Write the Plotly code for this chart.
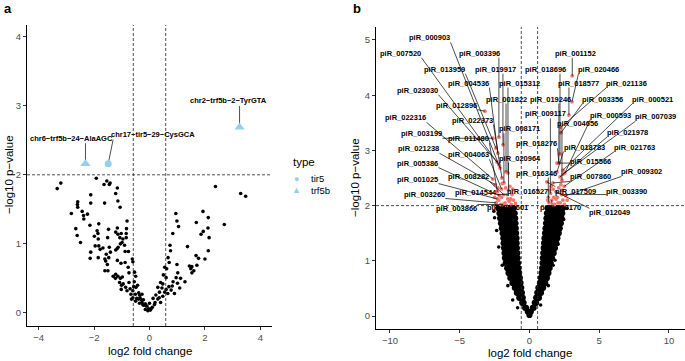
import plotly.graph_objects as go

W, H = 685, 361
FONT = "Liberation Sans, Arial, sans-serif"

# ---------------- Panel a data ----------------
a_bg_pts = [
    (-3.20, 1.88), (-3.33, 1.80), (-1.92, 1.95), (-1.64, 1.86), (-1.54, 1.91), (-1.42, 1.88),
    (-1.45, 1.86), (-1.16, 1.81), (-1.22, 1.73), (-2.12, 1.71), (-2.59, 1.61), (-2.60, 1.57),
    (-2.12, 1.59), (-1.62, 1.59), (-1.14, 1.62), (-1.06, 1.53), (-2.59, 1.53), (-2.82, 1.44),
    (-2.43, 1.47), (-2.24, 1.43), (-2.38, 1.41), (-2.37, 1.36), (-0.81, 1.33), (-1.83, 1.29),
    (-2.15, 1.27), (-2.66, 1.22), (-1.48, 1.21), (-1.16, 1.23), (-0.83, 1.22), (-1.89, 1.19),
    (-2.61, 1.12), (-1.86, 1.15), (-1.99, 1.11), (-1.51, 1.09), (-1.22, 1.17), (-1.14, 1.14),
    (-1.02, 1.15), (-0.84, 1.15), (-1.07, 1.09), (-0.96, 1.07), (-0.84, 1.09), (-1.85, 1.07),
    (-2.49, 1.02), (-0.99, 1.02), (-1.05, 1.00), (-0.90, 0.98), (-1.96, 0.97), (-1.83, 0.97),
    (-1.68, 0.94), (-1.45, 0.95), (-1.13, 0.95), (-1.22, 0.91), (-1.17, 0.93), (-2.12, 0.88),
    (-1.78, 0.92), (-1.56, 0.85), (-1.41, 0.88), (-0.88, 0.89), (-0.76, 0.89), (-2.14, 0.79),
    (-1.85, 0.80), (-1.61, 0.78), (-1.47, 0.80), (-1.58, 0.75), (-1.52, 0.70), (-1.16, 0.76),
    (-1.03, 0.72), (-0.88, 0.73), (-0.77, 0.66), (-0.62, 0.78), (-0.60, 0.74), (-1.61, 0.61),
    (-1.50, 0.61), (-1.22, 0.56), (-1.14, 0.53), (-1.05, 0.50), (-0.98, 0.52), (-0.74, 0.58),
    (-1.31, 0.53), (-1.23, 0.50), (-0.54, 0.59), (-0.50, 0.53), (-1.08, 0.44), (-1.01, 0.40),
    (-0.95, 0.42), (-0.74, 0.44), (-0.86, 0.37), (-1.02, 0.34), (-0.81, 0.32), (-0.57, 0.38),
    (-0.43, 0.40), (-0.49, 0.37), (-0.60, 0.32), (-0.67, 0.27), (-0.51, 0.27), (-0.39, 0.29),
    (-0.27, 0.27), (-0.60, 0.22), (-0.46, 0.21), (-0.34, 0.22), (-0.22, 0.19), (-0.50, 0.17),
    (-0.27, 0.15), (-0.15, 0.13), (-0.09, 0.10), (-0.03, 0.06), (-0.21, 0.11), (-0.36, 0.14),
    (0.03, 0.04), (-0.70, 0.35), (-0.55, 0.45), (-0.65, 0.20), (-0.40, 0.20), (-0.15, 0.05),
    (2.38, 1.83), (3.29, 1.73), (3.47, 1.69), (0.95, 1.44), (1.93, 1.47), (2.12, 1.38),
    (0.99, 1.33), (1.69, 1.31), (1.05, 1.25), (2.70, 1.28), (2.11, 1.23), (1.94, 1.18),
    (1.86, 1.14), (0.84, 1.15), (2.15, 1.09), (0.74, 0.98), (1.37, 0.96), (0.76, 0.90),
    (2.12, 0.90), (1.68, 0.83), (1.77, 0.79), (2.00, 0.78), (0.67, 0.80), (0.71, 0.73),
    (0.99, 0.70), (0.55, 0.66), (0.62, 0.64), (1.71, 0.69), (1.44, 0.68), (1.53, 0.67),
    (1.49, 0.64), (1.60, 0.61), (1.53, 0.58), (1.02, 0.58), (0.50, 0.55), (0.60, 0.51),
    (0.96, 0.51), (1.12, 0.50), (1.28, 0.45), (0.40, 0.44), (0.48, 0.42), (1.01, 0.43),
    (0.82, 0.39), (0.30, 0.37), (0.45, 0.36), (1.09, 0.36), (0.60, 0.34), (0.78, 0.33),
    (0.36, 0.30), (0.66, 0.28), (0.23, 0.26), (0.48, 0.24), (0.13, 0.21), (0.30, 0.20),
    (0.00, 0.14), (0.18, 0.12), (-0.12, 0.10), (0.06, 0.06), (-0.24, 0.12), (-0.36, 0.26),
    (-0.30, 0.19), (-0.06, 0.03), (0.10, 0.08), (0.20, 0.15), (0.35, 0.22), (0.55, 0.30),
    (0.70, 0.38), (0.40, 0.15), (0.85, 0.45), (0.90, 0.28),
]
a_bg_x = [p[0] for p in a_bg_pts]
a_bg_y = [p[1] for p in a_bg_pts]

a_hi_names = ["chr2\u2212trf5b\u22122\u2212TyrGTA", "chr6\u2212trf5b\u221224\u2212AlaAGC", "chr17\u2212tir5\u221229\u2212CysGCA"]
a_hi_type = ["trf5b", "trf5b", "tir5"]
a_hi_x = [3.25, -2.31, -1.49]
a_hi_y = [2.69, 2.16, 2.16]
# label placement (layout, data units)
a_lab_x = [2.85, -2.81, 0.13]
a_lab_y = [3.07, 2.53, 2.58]

# ---------------- Panel b data ----------------
# dense non-significant cloud, read row by row
b_cloud_rows = [
    (1.95, [-2.22, -2.0, -1.78, -1.56, -1.35, -1.13, 1.30, 1.52, 1.74, 1.96, 2.17, 2.38]),
    (1.86, [-2.15, -1.93, -1.71, -1.49, -1.27, -1.06, 1.25, 1.47, 1.69, 1.91, 2.13, 2.35]),
    (1.77, [-2.10, -1.88, -1.66, -1.45, -1.23, -1.02, 1.22, 1.44, 1.66, 1.88, 2.09, 2.30]),
    (1.68, [-2.04, -1.82, -1.61, -1.40, -1.20, -1.00, 1.19, 1.40, 1.62, 1.83, 2.04, 2.25]),
    (1.59, [-1.98, -1.77, -1.57, -1.37, -1.17, -0.98, 1.15, 1.36, 1.56, 1.77, 1.97, 2.17]),
    (1.50, [-1.92, -1.72, -1.52, -1.33, -1.14, -0.96, 1.12, 1.32, 1.52, 1.72, 1.91, 2.10]),
    (1.41, [-1.87, -1.67, -1.48, -1.30, -1.11, -0.93, 1.08, 1.27, 1.46, 1.64, 1.82, 2.00]),
    (1.32, [-1.85, -1.65, -1.46, -1.28, -1.10, -0.92, 1.05, 1.23, 1.41, 1.58, 1.75, 1.92]),
    (1.23, [-1.82, -1.62, -1.44, -1.26, -1.08, -0.90, 1.02, 1.20, 1.38, 1.56, 1.70, 1.83]),
    (1.14, [-1.79, -1.60, -1.41, -1.23, -1.05, -0.87, 0.99, 1.17, 1.35, 1.52, 1.65, 1.74]),
    (1.05, [-1.76, -1.57, -1.39, -1.21, -1.03, -0.85, 0.96, 1.14, 1.31, 1.47, 1.62]),
    (0.96, [-1.70, -1.52, -1.34, -1.16, -0.99, -0.82, 0.94, 1.10, 1.26, 1.40, 1.52]),
    (0.87, [-1.60, -1.43, -1.26, -1.10, -0.94, -0.78, 0.91, 1.06, 1.20, 1.34, 1.45]),
    (0.78, [-1.50, -1.34, -1.18, -1.03, -0.88, -0.74, 0.87, 1.01, 1.14, 1.26, 1.36]),
    (0.69, [-1.37, -1.22, -1.08, -0.95, -0.82, -0.69, 0.82, 0.95, 1.07, 1.17, 1.25]),
    (0.60, [-1.22, -1.09, -0.96, -0.85, -0.74, -0.64, 0.75, 0.86, 0.97, 1.06, 1.13]),
    (0.51, [-1.05, -0.94, -0.83, -0.73, -0.65, -0.59, 0.64, 0.74, 0.84, 0.92, 0.98]),
    (0.42, [-0.90, -0.80, -0.71, -0.62, -0.54, 0.56, 0.65, 0.74, 0.83]),
    (0.33, [-0.73, -0.64, -0.56, -0.48, 0.48, 0.56, 0.62, 0.68]),
    (0.24, [-0.52, -0.46, -0.42, 0.38, 0.43, 0.48]),
    (0.15, [-0.31, -0.25, 0.24, 0.30]),
    (0.08, [-0.12, 0.10]),
    (0.02, [0.0]),
]
b_cloud_x = [x for y, xs in b_cloud_rows for x in xs]
b_cloud_y = [y for y, xs in b_cloud_rows for x in xs]
# isolated / edge points of the cloud
b_sparse_pts = [(-1.2, 0.29), (1.83, 1.01), (2.19, 1.56), (-2.55, 1.90), (2.70, 1.95), (-2.35, 1.55),
                (2.45, 1.75), (-2.50, 1.78), (-2.20, 1.25), (2.05, 1.30), (1.70, 0.92), (-1.95, 0.92),
                (-0.85, 0.15), (0.80, 0.20), (-1.55, 0.55), (1.35, 0.55)]

b_sig_pts = [(-2.4, 2.05), (-2.2, 2.1), (-2.05, 2.02), (-1.75, 2.05), (-1.45, 2.08), (-1.15, 2.1),
             (-1.7, 2.32), (-1.25, 2.2), (-1.0, 2.04), (-1.55, 2.12), (-1.4, 2.35), (-1.95, 2.4),
             (-2.0, 2.15), (-1.2, 2.3), (-2.5, 2.15), (-1.65, 2.0), (-2.25, 2.32), (-1.35, 2.12),
             (1.8, 2.02), (2.0, 2.15), (2.2, 2.05), (2.4, 2.1), (1.7, 2.3), (1.9, 2.12), (2.1, 2.32),
             (2.5, 2.02), (1.55, 2.35), (2.05, 2.05), (1.75, 2.15), (2.25, 2.38), (1.45, 2.28),
             (2.35, 2.28), (1.65, 2.02), (2.7, 2.1), (1.3, 2.1)]

b_labeled = [
    ("piR_000903", -2.11, 2.68), ("piR_007520", -2.19, 2.74), ("piR_003396", -2.19, 3.24),
    ("piR_013959", -2.40, 3.04), ("piR_019917", -1.90, 3.10), ("piR_004536", -2.26, 2.95),
    ("piR_015312", -1.54, 2.59), ("piR_023030", -2.33, 2.79), ("piR_001822", -1.68, 2.61),
    ("piR_012896", -3.19, 3.71), ("piR_022316", -2.62, 2.48), ("piR_022373", -1.97, 2.50),
    ("piR_008171", -1.83, 2.41), ("piR_003199", -2.62, 3.22), ("piR_011480", -2.30, 2.25),
    ("piR_021238", -2.45, 2.38), ("piR_004063", -2.00, 2.30), ("piR_005386", -2.15, 2.18),
    ("piR_020964", -1.50, 2.28), ("piR_001025", -2.30, 2.12), ("piR_008282", -1.85, 2.20),
    ("piR_003260", -2.40, 2.05), ("piR_014544", -1.60, 2.20), ("piR_003866", -1.90, 2.02),
    ("piR_018601", -1.30, 2.02),
    ("piR_009117", 1.50, 2.22), ("piR_018276", 2.11, 2.77), ("piR_016346", 1.35, 2.15),
    ("piR_016527", 1.40, 2.05), ("piR_008170", 1.60, 2.10), ("piR_001152", 3.07, 4.35),
    ("piR_018696", 2.19, 2.93), ("piR_020466", 3.05, 3.88), ("piR_018577", 2.83, 3.64),
    ("piR_021136", 2.26, 3.42), ("piR_019246", 2.11, 2.77), ("piR_003356", 2.26, 3.32),
    ("piR_000521", 2.40, 2.64), ("piR_000593", 2.54, 2.59), ("piR_007039", 2.40, 2.57),
    ("piR_004656", 2.33, 2.46), ("piR_021978", 2.19, 2.52), ("piR_018783", 1.97, 2.61),
    ("piR_021763", 2.50, 2.35), ("piR_015566", 1.97, 2.77), ("piR_009302", 2.60, 2.18),
    ("piR_007860", 1.68, 2.41), ("piR_003390", 2.30, 2.20), ("piR_017509", 1.25, 2.43),
    ("piR_012049", 1.90, 2.25),
]
# repelled label placement (layout, data units), same order as b_labeled
b_label_pos = [
    (-7.13, 5.04), (-9.21, 4.76), (-3.55, 4.76), (-6.06, 4.47), (-2.40, 4.47), (-4.34, 4.22),
    (-0.68, 4.22), (-7.99, 4.09), (-1.61, 3.93), (-5.20, 3.82), (-8.85, 3.59), (-4.05, 3.55),
    (-0.68, 3.39), (-7.71, 3.30), (-4.34, 3.22), (-7.92, 3.03), (-4.34, 2.92), (-7.99, 2.77),
    (-0.68, 2.86), (-7.99, 2.48), (-4.34, 2.52), (-7.49, 2.21), (-3.84, 2.23), (-5.20, 1.94),
    (-1.54, 1.96),
    (1.18, 3.66), (0.54, 3.12), (0.47, 2.59), (-0.11, 2.26), (2.19, 1.96), (3.33, 4.76),
    (1.18, 4.47), (4.98, 4.47), (3.48, 4.22), (6.99, 4.22), (1.54, 3.93), (5.27, 3.93),
    (8.85, 3.93), (5.84, 3.64), (9.07, 3.61), (3.41, 3.48), (7.06, 3.33), (3.91, 3.06),
    (7.56, 3.06), (4.34, 2.79), (8.06, 2.61), (4.41, 2.52), (6.99, 2.25), (3.33, 2.26),
    (5.77, 1.87),
]

FC_CUT = 0.585
P_CUT = 2.0

# ---------------- layout geometry ----------------
A_XDOM = [27 / W, 272 / W]; A_XR = [-4.42, 4.42]
A_YDOM = [1 - 326 / H, 1 - 25 / H]; A_YR = [-0.19, 4.17]
B_XDOM = [376 / W, 685 / W]; B_XR = [-11.0, 11.15]
B_YDOM = [1 - 329 / H, 1 - 27 / H]; B_YR = [-0.235, 5.235]


def ppu(dom, rng, size):
    return (dom[1] - dom[0]) * size / (rng[1] - rng[0])


A_PX = ppu(A_XDOM, A_XR, W); A_PY = ppu(A_YDOM, A_YR, H)
B_PX = ppu(B_XDOM, B_XR, W); B_PY = ppu(B_YDOM, B_YR, H)


def segments(lab_x, lab_y, pt_x, pt_y, texts, px, py, char_w=2.0, half_h=4.5):
    xs, ys = [], []
    for lx, ly, tx, ty, t in zip(lab_x, lab_y, pt_x, pt_y, texts):
        hw = char_w * len(t) / px
        hh = half_h / py
        sx = min(max(tx, lx - hw), lx + hw)
        sy = min(max(ty, ly - hh), ly + hh)
        xs += [sx, tx, None]
        ys += [sy, ty, None]
    return xs, ys


fig = go.Figure()

# Panel a
fig.add_trace(go.Scatter(x=a_bg_x, y=a_bg_y, mode="markers", xaxis="x", yaxis="y",
                         marker=dict(color="black", size=3.6), hoverinfo="skip", showlegend=False))
sx, sy = segments(a_lab_x, a_lab_y, a_hi_x, a_hi_y, a_hi_names, A_PX, A_PY, char_w=2.0, half_h=5)
fig.add_trace(go.Scatter(x=sx, y=sy, mode="lines", xaxis="x", yaxis="y",
                         line=dict(color="black", width=0.7), hoverinfo="skip", showlegend=False))
BLUE = "#95CFEE"
for typ, sym, size in [("tir5", "circle", 7), ("trf5b", "triangle-up", 9)]:
    idx = [i for i, t in enumerate(a_hi_type) if t == typ]
    fig.add_trace(go.Scatter(x=[a_hi_x[i] for i in idx], y=[a_hi_y[i] for i in idx], mode="markers",
                             xaxis="x", yaxis="y", name=typ,
                             marker=dict(color=BLUE, size=size, symbol=sym), showlegend=False))

# Panel b
fig.add_trace(go.Scatter(x=b_cloud_x, y=b_cloud_y, mode="markers", xaxis="x2", yaxis="y2",
                         marker=dict(color="black", size=6.2), hoverinfo="skip", showlegend=False))
fig.add_trace(go.Scatter(x=[p[0] for p in b_sparse_pts], y=[p[1] for p in b_sparse_pts], mode="markers",
                         xaxis="x2", yaxis="y2", marker=dict(color="black", size=3.6),
                         hoverinfo="skip", showlegend=False))
RED = "#F8766D"
b_lab_names = [r[0] for r in b_labeled]
b_lab_pt_x = [r[1] for r in b_labeled]
b_lab_pt_y = [r[2] for r in b_labeled]
fig.add_trace(go.Scatter(x=[p[0] for p in b_sig_pts] + b_lab_pt_x,
                         y=[p[1] for p in b_sig_pts] + b_lab_pt_y, mode="markers",
                         xaxis="x2", yaxis="y2", marker=dict(color=RED, size=3.8),
                         hoverinfo="skip", showlegend=False))
sx, sy = segments([p[0] for p in b_label_pos], [p[1] for p in b_label_pos], b_lab_pt_x, b_lab_pt_y,
                  b_lab_names, B_PX, B_PY, char_w=2.05, half_h=4.5)
fig.add_trace(go.Scatter(x=sx, y=sy, mode="lines", xaxis="x2", yaxis="y2",
                         line=dict(color="black", width=0.7), hoverinfo="skip", showlegend=False))

annotations = []
for t, (lx, ly) in zip(b_lab_names, b_label_pos):
    annotations.append(dict(x=lx, y=ly, xref="x2", yref="y2", text="<b>%s</b>" % t, showarrow=False,
                            font=dict(family=FONT, size=7.5, color="black"),
                            xanchor="center", yanchor="middle", borderpad=0))
for t, lx, ly in zip(a_hi_names, a_lab_x, a_lab_y):
    annotations.append(dict(x=lx, y=ly, xref="x", yref="y", text="<b>%s</b>" % t, showarrow=False,
                            font=dict(family=FONT, size=7.5, color="black"),
                            xanchor="center", yanchor="middle", borderpad=0))


def paper_text(text, px, py, size, angle=0, anchor="center", color="black"):
    annotations.append(dict(x=px / W, y=1 - py / H, xref="paper", yref="paper", text=text,
                            showarrow=False, textangle=angle, xanchor=anchor, yanchor="middle",
                            font=dict(family=FONT, size=size, color=color)))


paper_text("<b>a</b>", 8, 9, 13)
paper_text("<b>b</b>", 357, 9, 13)
paper_text("log2 fold change", 150, 351, 11.5)
paper_text("log2 fold change", 530, 353, 11.5)
paper_text("\u2212log10 p\u2212value", 9, 175, 11.5, angle=-90)
paper_text("\u2212log10 p\u2212value", 355, 178, 11.5, angle=-90)
# legend
paper_text("type", 291, 162, 11.5, anchor="left")
paper_text("\u25cf", 296.7, 178.5, 9, color=BLUE)
paper_text("\u25b2", 296.7, 190, 9, color=BLUE)
paper_text("tir5", 309, 179, 9.5, anchor="left")
paper_text("trf5b", 309, 190.5, 9.5, anchor="left")

DASH = "3px,2px"
shapes = []
for xr, yr in [("x", "y"), ("x2", "y2")]:
    for v in (-FC_CUT, FC_CUT):
        shapes.append(dict(type="line", xref=xr, yref=yr + " domain", x0=v, x1=v, y0=0, y1=1,
                           line=dict(color="#222", width=0.8, dash=DASH)))
    shapes.append(dict(type="line", xref=xr + " domain", yref=yr, x0=0, x1=1, y0=P_CUT, y1=P_CUT,
                       line=dict(color="#222", width=0.8, dash=DASH)))

axis_common = dict(showgrid=False, zeroline=False, showline=True, linecolor="black", linewidth=1.1,
                   ticks="outside", ticklen=3, tickwidth=1, tickcolor="#333",
                   tickfont=dict(family=FONT, size=9.5, color="#4D4D4D"), automargin=False)

fig.update_layout(
    width=W, height=H, margin=dict(l=0, r=0, t=0, b=0),
    paper_bgcolor="white", plot_bgcolor="white", showlegend=False,
    xaxis=dict(domain=A_XDOM, range=A_XR, tickvals=[-4, -2, 0, 2, 4], anchor="y", **axis_common),
    yaxis=dict(domain=A_YDOM, range=A_YR, tickvals=[0, 1, 2, 3, 4], anchor="x", **axis_common),
    xaxis2=dict(domain=B_XDOM, range=B_XR, tickvals=[-10, -5, 0, 5, 10], anchor="y2", **axis_common),
    yaxis2=dict(domain=B_YDOM, range=B_YR, tickvals=[0, 1, 2, 3, 4, 5], anchor="x2", **axis_common),
    annotations=annotations, shapes=shapes,
)

fig.write_html("out.html", config={"displayModeBar": False},
               post_script="document.body.style.margin='0px';")
